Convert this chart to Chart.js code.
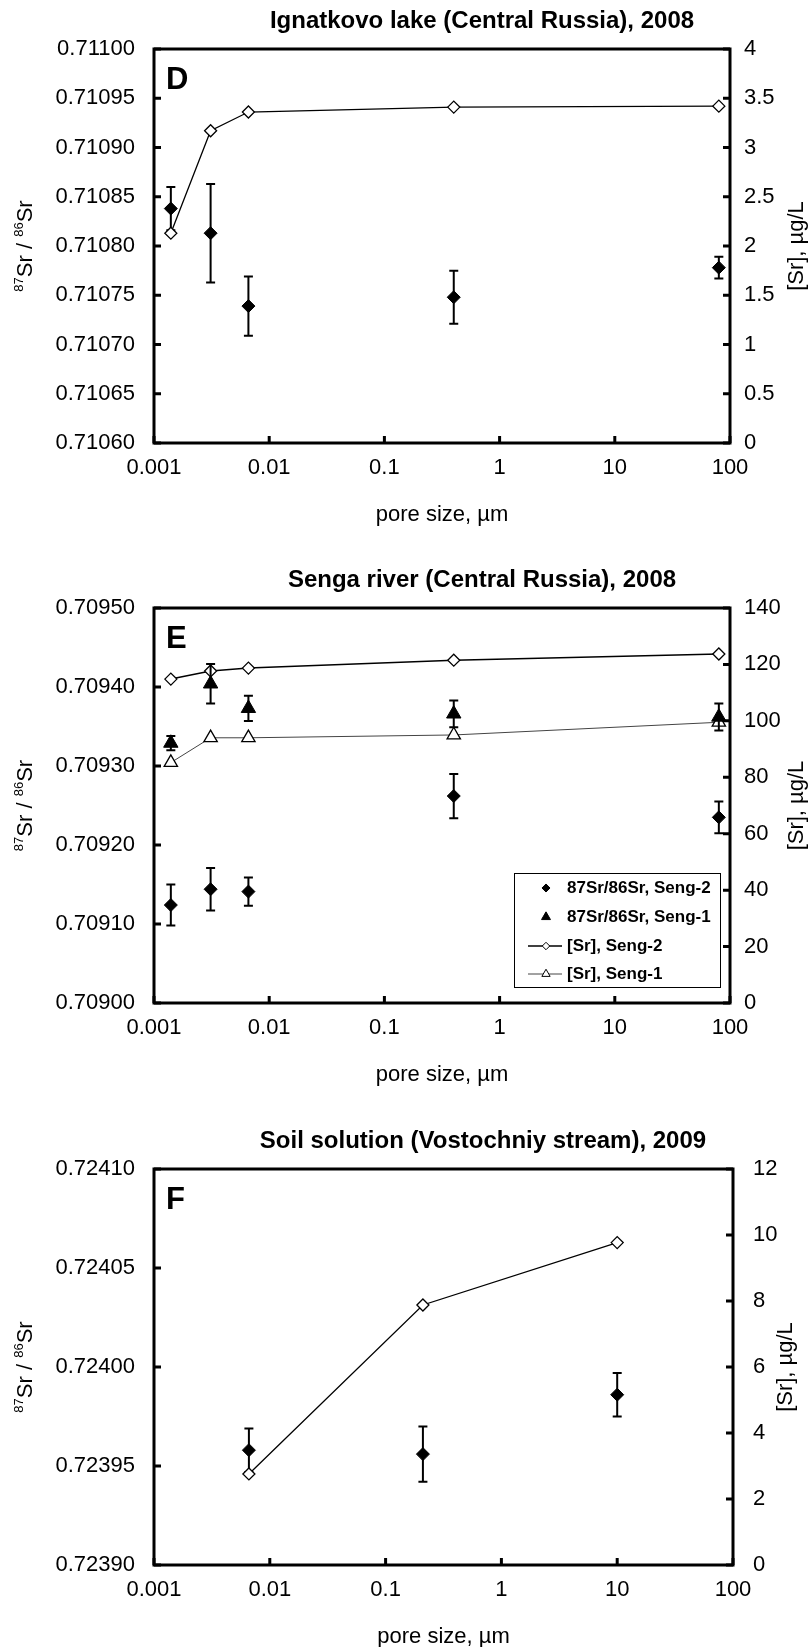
<!DOCTYPE html>
<html>
<head>
<meta charset="utf-8">
<script src="https://cdn.jsdelivr.net/npm/chart.js@4.4.1/dist/chart.umd.min.js"></script>
<style>
  html, body { margin: 0; padding: 0; background: #fff; }
  body { width: 810px; height: 1647px; position: relative; overflow: hidden; }
  .panel { position: absolute; left: 0; }
</style>
</head>
<body>
<div class="panel" style="top:0"><canvas id="chartD" width="810" height="545"></canvas></div>
<div class="panel" style="top:545px"><canvas id="chartE" width="810" height="560"></canvas></div>
<div class="panel" style="top:1105px"><canvas id="chartF" width="810" height="542"></canvas></div>
<script>
const FONT = '"Liberation Sans", Arial, Helvetica, sans-serif';

// x axis, pore size in µm (log)
const xTicks = [0.001, 0.01, 0.1, 1, 10, 100];

// D - Ignatkovo lake
const poreD = [0.0014, 0.0031, 0.0066, 0.4, 80];
const ratioD = [0.710838, 0.710813, 0.710739, 0.710748, 0.710778];
const ratioErrD = [0.000022, 0.00005, 0.00003, 0.000027, 0.000011];
const srD = [2.13, 3.17, 3.36, 3.41, 3.42];
const ratioTicksD = [0.7106, 0.71065, 0.7107, 0.71075, 0.7108, 0.71085, 0.7109, 0.71095, 0.711];
const srTicksD = [0, 0.5, 1, 1.5, 2, 2.5, 3, 3.5, 4];

// E - Senga river
const poreE = [0.0014, 0.0031, 0.0066, 0.4, 80];
const ratioSeng2 = [0.709124, 0.709144, 0.709141, 0.709262, 0.709235];
const ratioErrSeng2 = [0.000026, 0.000027, 0.000018, 0.000028, 0.00002];
const ratioSeng1 = [0.709329, 0.709404, 0.709373, 0.709366, 0.709362];
const ratioErrSeng1 = [0.000009, 0.000025, 0.000016, 0.000017, 0.000017];
const srSeng2 = [114.8, 117.7, 118.7, 121.5, 123.7];
const srSeng1 = [85.2, 94.0, 94.0, 95.0, 99.5];
const ratioTicksE = [0.709, 0.7091, 0.7092, 0.7093, 0.7094, 0.7095];
const srTicksE = [0, 20, 40, 60, 80, 100, 120, 140];

// F - soil solution
const poreF = [0.0066, 0.21, 10];
const ratioF = [0.723958, 0.723956, 0.723986];
const ratioErrF = [0.000011, 0.000014, 0.000011];
const srF = [2.76, 7.88, 9.77];
const ratioTicksF = [0.7239, 0.72395, 0.724, 0.72405, 0.7241];
const srTicksF = [0, 2, 4, 6, 8, 10, 12];

const ratioTitle = [
  { text: '87', sup: true }, { text: 'Sr' }, { text: ' / ' },
  { text: '86', sup: true }, { text: 'Sr' }
];
const srTitle = [{ text: '[Sr], µg/L' }];
const xTitle = 'pore size, µm';

const pts = (xs, ys) => xs.map((x, i) => ({ x, y: ys[i] }));

const ratioSet = (label, xs, ys, errs, style, r, order) => ({
  label, data: pts(xs, ys), errors: errs, yAxisID: 'y', order,
  pointStyle: style, pointRadius: r,
  pointBackgroundColor: '#000', pointBorderColor: '#000', pointBorderWidth: 1,
  backgroundColor: '#000', borderColor: '#000', showLine: false
});

const srSet = (label, xs, ys, style, r, lineColor, lineWidth, order) => ({
  label, data: pts(xs, ys), yAxisID: 'y1', order,
  pointStyle: style, pointRadius: r,
  pointBackgroundColor: '#fff', pointBorderColor: '#000', pointBorderWidth: 1.3,
  showLine: true, borderColor: lineColor, borderWidth: lineWidth, tension: 0
});

// vertical error bars with caps, drawn right after their own dataset
const errorBars = {
  id: 'errorBars',
  afterDatasetDraw(chart, args) {
    const ds = chart.data.datasets[args.index];
    if (!ds.errors) return;
    const ys = chart.scales[ds.yAxisID];
    const ctx = chart.ctx;
    ctx.save();
    ctx.strokeStyle = '#000';
    ctx.lineWidth = 2;
    args.meta.data.forEach((pt, i) => {
      const v = ds.data[i].y, e = ds.errors[i];
      const top = ys.getPixelForValue(v + e);
      const bot = ys.getPixelForValue(v - e);
      ctx.beginPath();
      ctx.moveTo(pt.x, top); ctx.lineTo(pt.x, bot);
      ctx.moveTo(pt.x - 4.5, top); ctx.lineTo(pt.x + 4.5, top);
      ctx.moveTo(pt.x - 4.5, bot); ctx.lineTo(pt.x + 4.5, bot);
      ctx.stroke();
    });
    ctx.restore();
  }
};

// plot box with inward tick marks
const frame = {
  id: 'frame',
  afterDraw(chart) {
    const { ctx, chartArea: a, scales } = chart;
    ctx.save();
    ctx.strokeStyle = '#000';
    ctx.lineWidth = 3;
    ctx.strokeRect(a.left, a.top, a.right - a.left, a.bottom - a.top);
    ctx.beginPath();
    scales.x.ticks.forEach(t => {
      const p = scales.x.getPixelForValue(t.value);
      ctx.moveTo(p, a.bottom); ctx.lineTo(p, a.bottom - 7);
    });
    scales.y.ticks.forEach(t => {
      const p = scales.y.getPixelForValue(t.value);
      ctx.moveTo(a.left, p); ctx.lineTo(a.left + 7, p);
    });
    scales.y1.ticks.forEach(t => {
      const p = scales.y1.getPixelForValue(t.value);
      ctx.moveTo(a.right, p); ctx.lineTo(a.right - 7, p);
    });
    ctx.stroke();
    ctx.restore();
  }
};

function drawVertical(ctx, parts, cx, cy, size) {
  ctx.save();
  ctx.translate(cx, cy);
  ctx.rotate(-Math.PI / 2);
  const fontOf = p => (p.sup ? Math.round(size * 0.6) : size) + 'px ' + FONT;
  let w = 0;
  parts.forEach(p => { ctx.font = fontOf(p); w += ctx.measureText(p.text).width; });
  let x = -w / 2;
  ctx.textAlign = 'left';
  ctx.textBaseline = 'alphabetic';
  parts.forEach(p => {
    ctx.font = fontOf(p);
    ctx.fillText(p.text, x, 8 - (p.sup ? 9 : 0));
    x += ctx.measureText(p.text).width;
  });
  ctx.restore();
}

// titles, panel letter, axis titles and the legend box
const panelText = {
  id: 'panelText',
  afterDraw(chart, args, opts) {
    const { ctx, chartArea: a } = chart;
    const midX = (a.left + a.right) / 2, midY = (a.top + a.bottom) / 2;
    ctx.save();
    ctx.fillStyle = '#000';
    ctx.font = 'bold 24px ' + FONT;
    ctx.textAlign = 'center';
    ctx.textBaseline = 'middle';
    ctx.fillText(opts.title, opts.titleX, a.top - 28);

    ctx.font = 'bold 31px ' + FONT;
    ctx.textAlign = 'left';
    ctx.textBaseline = 'alphabetic';
    ctx.fillText(opts.letter, a.left + 12, a.top + 40);

    ctx.font = '22px ' + FONT;
    ctx.textAlign = 'center';
    ctx.textBaseline = 'middle';
    ctx.fillText(xTitle, midX, a.bottom + 72);

    drawVertical(ctx, ratioTitle, 24, midY, 22);
    drawVertical(ctx, srTitle, opts.rightTitleX, midY, 22);

    const L = opts.legend;
    if (L) {
      ctx.fillStyle = '#fff';
      ctx.fillRect(L.x, L.y, L.w, L.h);
      ctx.strokeStyle = '#000';
      ctx.lineWidth = 1;
      ctx.strokeRect(L.x + 0.5, L.y + 0.5, L.w, L.h);
      chart.data.datasets.forEach((ds, i) => {
        const y = L.rows[i];
        if (ds.showLine) {
          ctx.strokeStyle = ds.borderColor;
          ctx.lineWidth = ds.borderWidth;
          ctx.beginPath();
          ctx.moveTo(L.x + 14, y); ctx.lineTo(L.x + 48, y);
          ctx.stroke();
        }
        ctx.fillStyle = ds.pointBackgroundColor;
        ctx.strokeStyle = ds.pointBorderColor;
        ctx.lineWidth = 1;
        Chart.helpers.drawPoint(ctx, {
          pointStyle: ds.pointStyle, radius: ds.pointRadius * 0.62, rotation: 0, borderWidth: 1
        }, L.x + 32, y);
        ctx.fillStyle = '#000';
        ctx.font = 'bold 17px ' + FONT;
        ctx.textAlign = 'left';
        ctx.textBaseline = 'middle';
        ctx.fillText(ds.label, L.x + 53, y);
      });
    }
    ctx.restore();
  }
};

function scalesFor(p) {
  const tickFont = { family: FONT, size: 22 };
  const fixTicks = arr => s => { s.ticks = arr.map(v => ({ value: v })); };
  const common = {
    grid: { display: false, drawTicks: false },
    border: { display: false }
  };
  return {
    x: {
      ...common, type: 'logarithmic', min: 0.001, max: 100,
      afterBuildTicks: fixTicks(xTicks),
      afterFit: s => { s.height = p.xHeight; },
      ticks: { autoSkip: false, maxRotation: 0, padding: 12, color: '#000', font: tickFont,
        callback: v => String(v) }
    },
    y: {
      ...common, type: 'linear', position: 'left',
      min: p.ratioTicks[0], max: p.ratioTicks[p.ratioTicks.length - 1],
      afterBuildTicks: fixTicks(p.ratioTicks),
      afterFit: s => { s.width = 154; },
      ticks: { autoSkip: false, padding: 19, color: '#000', font: tickFont,
        callback: v => v.toFixed(5) }
    },
    y1: {
      ...common, type: 'linear', position: 'right',
      min: p.srTicks[0], max: p.srTicks[p.srTicks.length - 1],
      afterBuildTicks: fixTicks(p.srTicks),
      afterFit: s => { s.width = p.rightWidth; },
      ticks: { autoSkip: false, padding: p.rightPad, color: '#000', font: tickFont,
        callback: v => String(v) }
    }
  };
}

function makeChart(id, p, datasets) {
  return new Chart(document.getElementById(id), {
    type: 'scatter',
    data: { datasets },
    options: {
      responsive: false,
      animation: false,
      devicePixelRatio: 1,
      layout: { autoPadding: false, padding: { top: p.padTop, left: 0, right: 0, bottom: 0 } },
      scales: scalesFor(p),
      plugins: {
        legend: { display: false },
        tooltip: { enabled: false },
        panelText: p.text
      }
    },
    plugins: [errorBars, frame, panelText]
  });
}

makeChart('chartD', {
  padTop: 49, xHeight: 102, rightWidth: 80, rightPad: 14,
  ratioTicks: ratioTicksD, srTicks: srTicksD,
  text: { title: 'Ignatkovo lake (Central Russia), 2008', titleX: 482, letter: 'D', rightTitleX: 795 }
}, [
  ratioSet('87Sr/86Sr', poreD, ratioD, ratioErrD, 'rectRot', 6.5, 2),
  srSet('[Sr]', poreD, srD, 'rectRot', 6, '#000', 1.3, 1)
]);

makeChart('chartE', {
  padTop: 63, xHeight: 102, rightWidth: 80, rightPad: 14,
  ratioTicks: ratioTicksE, srTicks: srTicksE,
  text: {
    title: 'Senga river (Central Russia), 2008', titleX: 482, letter: 'E', rightTitleX: 795,
    legend: { x: 514, y: 328, w: 206, h: 114, rows: [343, 372, 401, 429] }
  }
}, [
  ratioSet('87Sr/86Sr, Seng-2', poreE, ratioSeng2, ratioErrSeng2, 'rectRot', 6.5, 2),
  ratioSet('87Sr/86Sr, Seng-1', poreE, ratioSeng1, ratioErrSeng1, 'triangle', 8.3, 1),
  srSet('[Sr], Seng-2', poreE, srSeng2, 'rectRot', 6, '#000', 1.5, 4),
  srSet('[Sr], Seng-1', poreE, srSeng1, 'triangle', 7.7, '#444', 1, 3)
]);

makeChart('chartF', {
  padTop: 64, xHeight: 82, rightWidth: 77, rightPad: 20,
  ratioTicks: ratioTicksF, srTicks: srTicksF,
  text: { title: 'Soil solution (Vostochniy stream), 2009', titleX: 483, letter: 'F', rightTitleX: 784 }
}, [
  ratioSet('87Sr/86Sr', poreF, ratioF, ratioErrF, 'rectRot', 6.5, 2),
  srSet('[Sr]', poreF, srF, 'rectRot', 6, '#000', 1.3, 1)
]);
</script>
</body>
</html>
